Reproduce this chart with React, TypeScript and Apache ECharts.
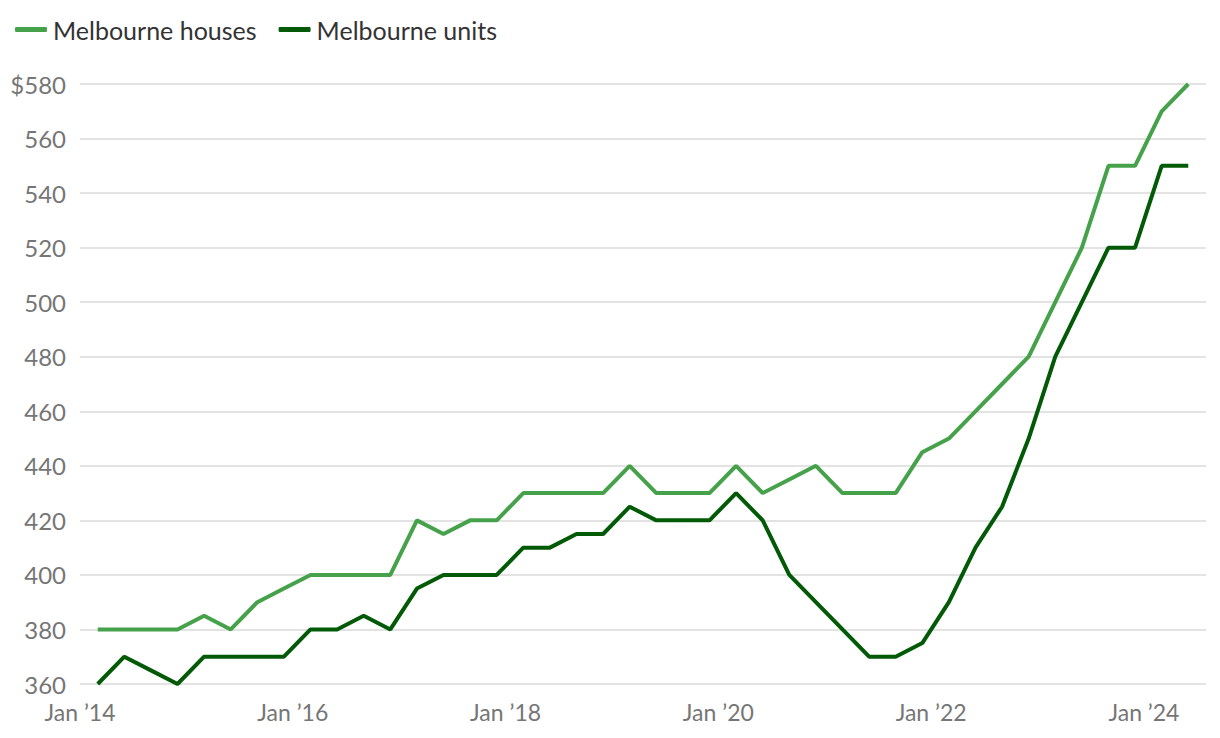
import React, { useEffect, useRef } from "react";
import * as echarts from "echarts";

const quarters: string[] = [
  "2014-03", "2014-06", "2014-09", "2014-12",
  "2015-03", "2015-06", "2015-09", "2015-12",
  "2016-03", "2016-06", "2016-09", "2016-12",
  "2017-03", "2017-06", "2017-09", "2017-12",
  "2018-03", "2018-06", "2018-09", "2018-12",
  "2019-03", "2019-06", "2019-09", "2019-12",
  "2020-03", "2020-06", "2020-09", "2020-12",
  "2021-03", "2021-06", "2021-09", "2021-12",
  "2022-03", "2022-06", "2022-09", "2022-12",
  "2023-03", "2023-06", "2023-09", "2023-12",
  "2024-03", "2024-06",
];

const housesRent: number[] = [
  380, 380, 380, 380, 385, 380, 390, 395, 400, 400, 400, 400,
  420, 415, 420, 420, 430, 430, 430, 430, 440, 430, 430, 430,
  440, 430, 435, 440, 430, 430, 430, 445, 450, 460, 470, 480,
  500, 520, 550, 550, 570, 580,
];

const unitsRent: number[] = [
  360, 370, 365, 360, 370, 370, 370, 370, 380, 380, 385, 380,
  395, 400, 400, 400, 410, 410, 415, 415, 425, 420, 420, 420,
  430, 420, 400, 390, 380, 370, 370, 375, 390, 410, 425, 450,
  480, 500, 520, 520, 550, 550,
];

const seriesNames: string[] = ["Melbourne houses", "Melbourne units"];
const startYear = 2014;
const xAxisMaxMonth = 127; // months after Jan 2014 at the right edge
const yMin = 360;
const yMax = 580;
const yStep = 20;

const FONT = "Lato, 'Noto Sans', sans-serif";

function monthIndex(q: string): number {
  const [y, m] = q.split("-").map(Number);
  return (y - startYear) * 12 + (m - 1);
}

export default function App() {
  const ref = useRef<HTMLDivElement>(null);

  useEffect(() => {
    document.body.style.margin = "0";
    if (!ref.current) return;
    const chart = echarts.init(ref.current, undefined, { renderer: "svg" });
    const toPoints = (vals: number[]) => quarters.map((q, i) => [monthIndex(q), vals[i]]);

    chart.setOption({
      animation: false,
      backgroundColor: "#ffffff",
      textStyle: { fontFamily: FONT },
      legend: {
        left: 10,
        top: 12,
        icon: "roundRect",
        itemWidth: 32,
        itemHeight: 5,
        itemGap: 22,
        textStyle: {
          fontFamily: FONT,
          fontSize: 25,
          color: "#333333",
          padding: [0, 0, 0, 1],
        },
        data: seriesNames,
      },
      grid: { left: 80, right: 14, top: 84, bottom: 54, containLabel: false },
      xAxis: {
        type: "value",
        min: 0,
        max: xAxisMaxMonth,
        interval: 24,
        axisLine: { show: false },
        axisTick: { show: false },
        splitLine: { show: false },
        axisLabel: {
          showMaxLabel: false,
          margin: 16,
          fontFamily: FONT,
          fontSize: 23,
          color: "#767676",
          formatter: (v: number) => {
            const yr = startYear + Math.round(v / 12);
            return "Jan \u2019" + String(yr).slice(2);
          },
        },
      },
      yAxis: {
        type: "value",
        min: yMin,
        max: yMax,
        interval: yStep,
        axisLine: { show: false },
        axisTick: { show: false },
        splitLine: { lineStyle: { color: "#e3e3e3", width: 2 } },
        axisLabel: {
          margin: 14,
          fontFamily: FONT,
          fontSize: 24,
          color: "#767676",
          formatter: (v: number) => (v === yMax ? "$" + v : String(v)),
        },
      },
      series: [
        {
          name: seriesNames[0],
          type: "line",
          symbol: "none",
          data: toPoints(housesRent),
          lineStyle: { width: 4, color: "#46a24a" },
          itemStyle: { color: "#46a24a" },
          z: 2,
        },
        {
          name: seriesNames[1],
          type: "line",
          symbol: "none",
          data: toPoints(unitsRent),
          lineStyle: { width: 4, color: "#035a06" },
          itemStyle: { color: "#035a06" },
          z: 3,
        },
      ],
    });

    return () => chart.dispose();
  }, []);

  return <div ref={ref} style={{ width: 1220, height: 738 }} />;
}
